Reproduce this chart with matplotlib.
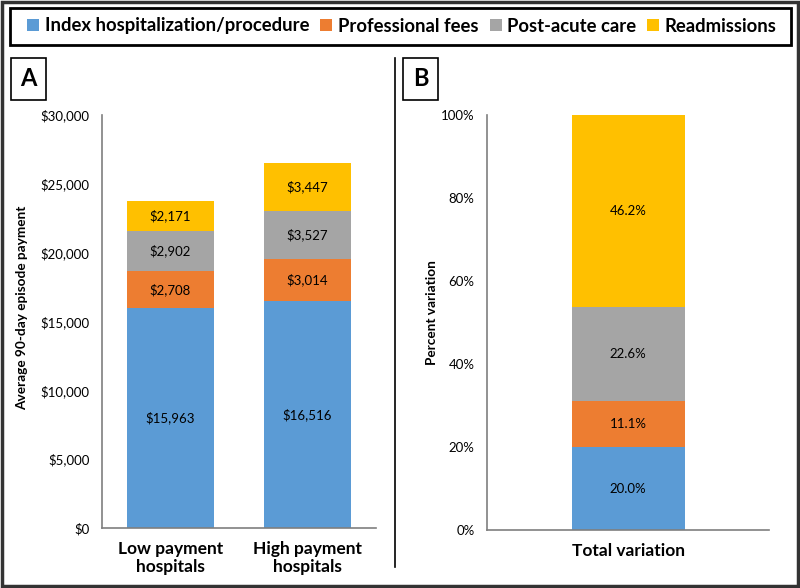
import matplotlib.pyplot as plt
from matplotlib.patches import Rectangle, Patch
from matplotlib.lines import Line2D
from matplotlib.ticker import FuncFormatter

plt.rcParams['font.family'] = ['Lato', 'DejaVu Sans']

components = ['Index hospitalization/procedure', 'Professional fees', 'Post-acute care', 'Readmissions']
colors = ['#5B9BD5', '#ED7D31', '#A5A5A5', '#FFC000']

hospital_groups = ['Low payment\nhospitals', 'High payment\nhospitals']
low_payment = [15963, 2708, 2902, 2171]
high_payment = [16516, 3014, 3527, 3447]

variation_label = ['Total variation']
variation_pct = [20.0, 11.1, 22.6, 46.2]

fig = plt.figure(figsize=(8, 5.88), dpi=100)

# panel A
ax_a = fig.add_axes([0.1275, 0.102, 0.3425, 0.7024])
bottoms = [0, 0]
for i, comp in enumerate(components):
    vals = [low_payment[i], high_payment[i]]
    bars = ax_a.bar([0, 1], vals, width=0.64, bottom=bottoms, color=colors[i])
    for b, v, btm in zip(bars, vals, bottoms):
        ax_a.text(b.get_x() + b.get_width() / 2, btm + v / 2, f'${v:,}',
                  ha='center', va='center', fontsize=9.5)
    bottoms = [bottoms[0] + vals[0], bottoms[1] + vals[1]]
ax_a.set_xlim(-0.5, 1.5)
ax_a.set_ylim(0, 30000)
ax_a.set_yticks(range(0, 30001, 5000))
ax_a.yaxis.set_major_formatter(FuncFormatter(lambda v, p: f'${int(v):,}'))
ax_a.set_xticks([0, 1])
ax_a.set_xticklabels(hospital_groups, fontweight='bold', fontsize=12.5, linespacing=1.2)
ax_a.set_ylabel('Average 90-day episode payment', fontweight='bold', fontsize=9.8)
ax_a.yaxis.set_label_coords(-0.268, 0.533)

# panel B
ax_b = fig.add_axes([0.609, 0.0986, 0.3525, 0.7058])
btm = 0
for i, comp in enumerate(components):
    ax_b.bar([0], [variation_pct[i]], width=0.4, bottom=btm, color=colors[i])
    ax_b.text(0, btm + variation_pct[i] / 2, f'{variation_pct[i]:.1f}%',
              ha='center', va='center', fontsize=9.5)
    btm += variation_pct[i]
ax_b.set_xlim(-0.5, 0.5)
ax_b.set_ylim(0, 100)
ax_b.set_yticks(range(0, 101, 20))
ax_b.yaxis.set_major_formatter(FuncFormatter(lambda v, p: f'{int(v)}%'))
ax_b.set_xticks([0])
ax_b.set_xticklabels(variation_label, fontweight='bold', fontsize=12.5)
ax_b.set_ylabel('Percent variation', fontweight='bold', fontsize=9.8)
ax_b.yaxis.set_label_coords(-0.174, 0.523)

for ax in (ax_a, ax_b):
    for s in ('top', 'right'):
        ax.spines[s].set_visible(False)
    for s in ('left', 'bottom'):
        ax.spines[s].set_color('#7f7f7f')
        ax.spines[s].set_linewidth(1.2)
    ax.tick_params(axis='y', length=0, labelsize=9.5, pad=9)
    ax.tick_params(axis='x', length=0, pad=9)

# legend across the top, with its own box
handles = [Patch(facecolor=c, edgecolor='none') for c in colors]
fig.legend(handles, components, loc='center', bbox_to_anchor=(0.5025, 1 - 26 / 588),
           ncol=4, frameon=False, prop={'weight': 'bold', 'size': 13.3},
           handlelength=0.65, handleheight=0.65, handletextpad=0.3,
           columnspacing=0.6, borderpad=0.2)
fig.patches.append(Rectangle((10 / 800, 1 - 45 / 588), 781 / 800, 37 / 588,
                             transform=fig.transFigure, fill=False,
                             edgecolor='black', linewidth=2))

# panel letter boxes
for x0, letter in [(11, 'A'), (403, 'B')]:
    fig.patches.append(Rectangle((x0 / 800, 1 - 100 / 588), 35 / 800, 42 / 588,
                                 transform=fig.transFigure, fill=False,
                                 edgecolor='black', linewidth=1.2))
    fig.text((x0 + 17.5) / 800, 1 - 79 / 588, letter, ha='center', va='center',
             fontsize=17, fontweight='bold')

# divider and outer frame
fig.lines.append(Line2D([395 / 800, 395 / 800], [1 - 58 / 588, 1 - 567 / 588],
                        transform=fig.transFigure, color='black', linewidth=1.2))
fig.patches.append(Rectangle((0.003, 0.004), 0.994, 0.992, transform=fig.transFigure,
                             fill=False, edgecolor='#333333', linewidth=2.5))

fig.savefig('out.png', dpi=100)
